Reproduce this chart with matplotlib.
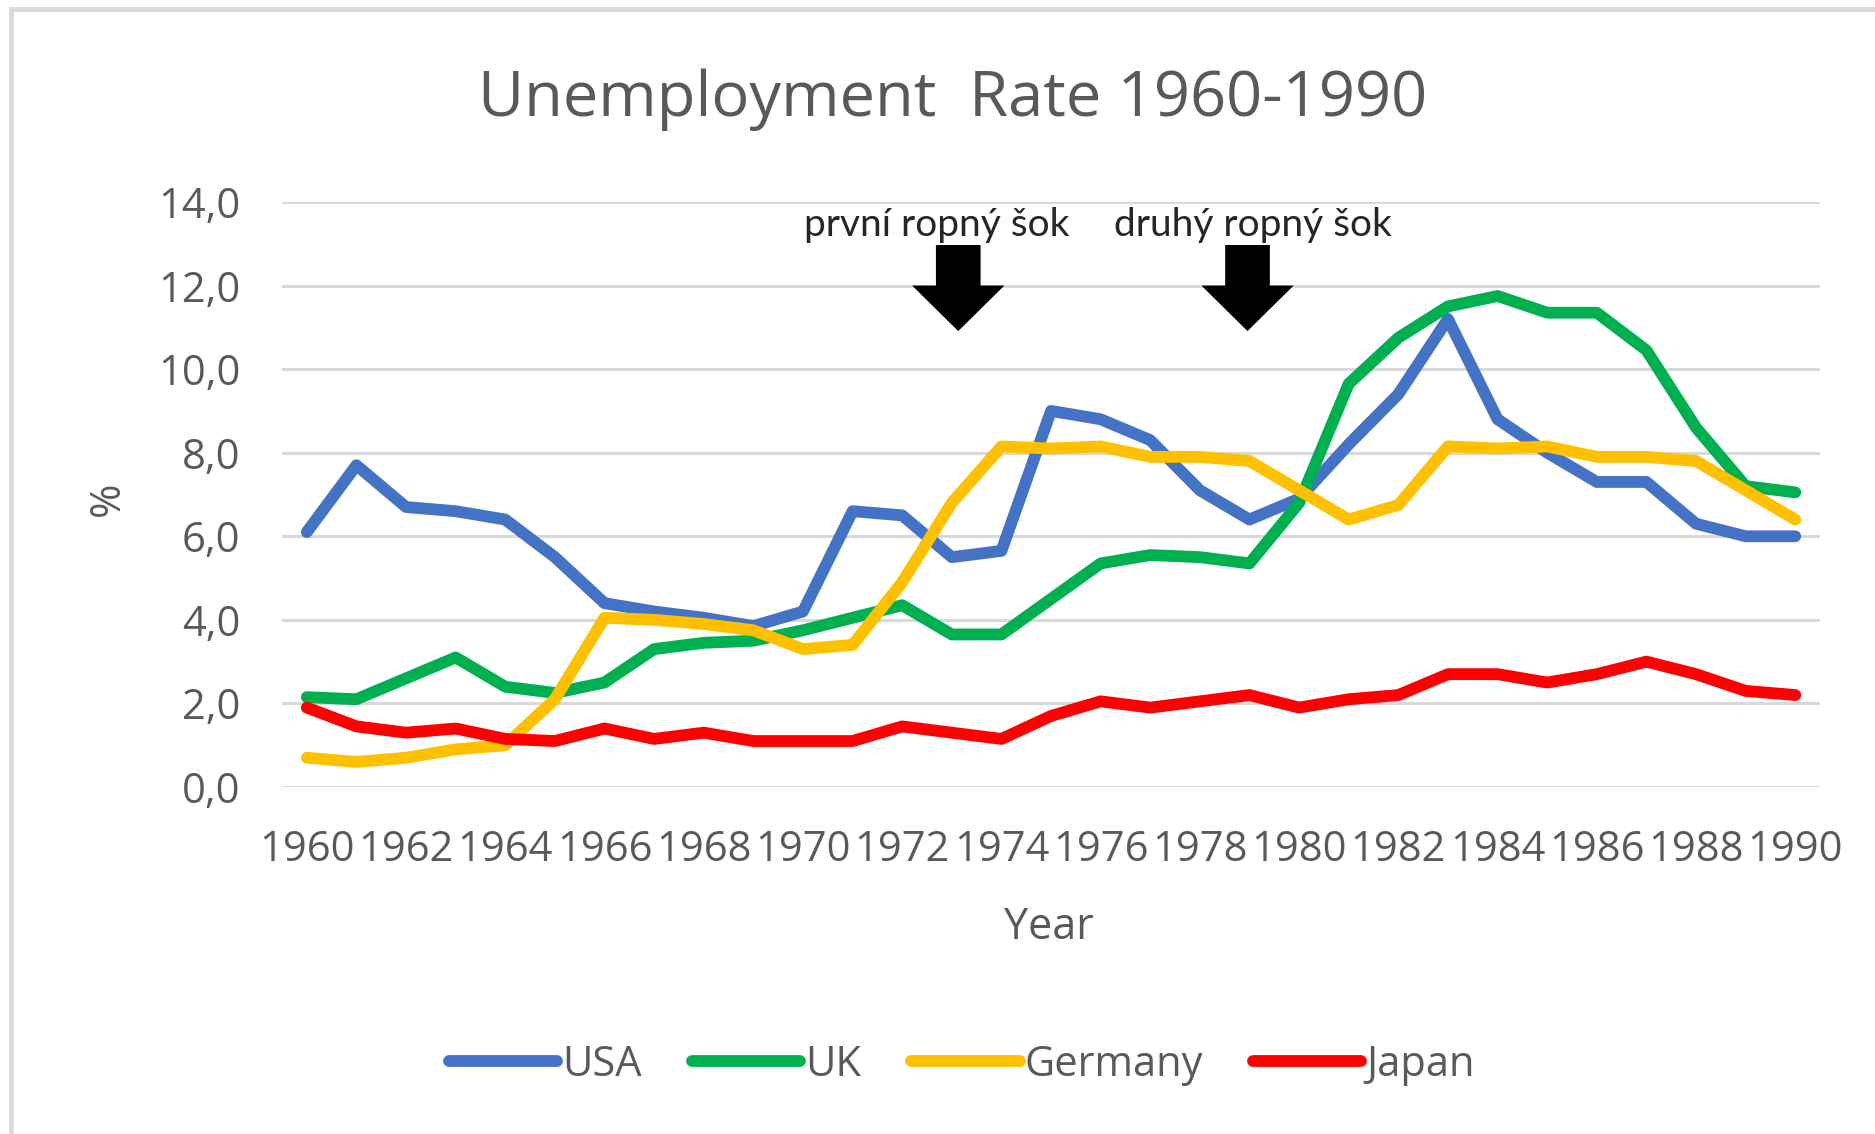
import matplotlib
matplotlib.use("Agg")
import matplotlib.pyplot as plt
from matplotlib.patches import Polygon
from matplotlib.lines import Line2D

years = list(range(1960, 1991))
usa = [6.1, 7.7, 6.7, 6.6, 6.4, 5.5, 4.4, 4.2, 4.05, 3.85, 4.2, 6.6, 6.5, 5.5, 5.65,
       9.0, 8.8, 8.3, 7.1, 6.4, 6.9, 8.2, 9.4, 11.2, 8.8, 8.0, 7.3, 7.3, 6.3, 6.0, 6.0]
uk = [2.15, 2.1, 2.6, 3.1, 2.4, 2.25, 2.5, 3.3, 3.45, 3.5, 3.75, 4.05, 4.35, 3.65, 3.65,
      4.5, 5.35, 5.55, 5.5, 5.35, 6.8, 9.65, 10.75, 11.5, 11.75, 11.35, 11.35, 10.45, 8.6, 7.2, 7.05]
germany = [0.7, 0.6, 0.7, 0.9, 1.0, 2.1, 4.05, 4.0, 3.9, 3.75, 3.3, 3.4, 4.9, 6.8, 8.15,
           8.1, 8.15, 7.9, 7.9, 7.8, 7.1, 6.4, 6.75, 8.15, 8.1, 8.15, 7.9, 7.9, 7.8, 7.1, 6.4]
japan = [1.9, 1.45, 1.3, 1.4, 1.15, 1.1, 1.4, 1.15, 1.3, 1.1, 1.1, 1.1, 1.45, 1.3, 1.15,
         1.7, 2.05, 1.9, 2.05, 2.2, 1.9, 2.1, 2.2, 2.7, 2.7, 2.5, 2.7, 3.0, 2.7, 2.3, 2.2]

series_names = ["USA", "UK", "Germany", "Japan"]
series_values = [usa, uk, germany, japan]
series_colors = ["#4472C4", "#00B050", "#FFC000", "#FF0000"]

xtick_years = list(range(1960, 1991, 2))
yticks = [0, 2, 4, 6, 8, 10, 12, 14]

shock_labels = ["první ropný šok", "druhý ropný šok"]
shock_text_x = [1972.69, 1979.06]
shock_arrow_x = [1973.13, 1978.96]

TXT = "#595959"
FONT = ["Open Sans", "DejaVu Sans"]
plt.rcParams["font.family"] = FONT

fig = plt.figure(figsize=(18.75, 11.34), dpi=100)
ax = fig.add_axes([0.1504, 0.306, 0.8203, 0.5159])

for name, vals, col in zip(series_names, series_values, series_colors):
    ax.plot(years, vals, color=col, lw=8.5, label=name, solid_capstyle="round",
            solid_joinstyle="round", clip_on=False, zorder=3)

ax.set_xlim(1959.5, 1990.5)
ax.set_ylim(0, 14)
ax.set_xticks(xtick_years)
ax.set_xticklabels([str(y) for y in xtick_years])
ax.set_yticks(yticks)
ax.set_yticklabels([f"{v:.1f}".replace(".", ",") for v in yticks])
ax.tick_params(axis="both", length=0, labelsize=30, labelcolor=TXT)
ax.tick_params(axis="x", pad=30)
ax.tick_params(axis="y", pad=30)
ax.grid(axis="y", color="#D9D9D9", lw=2.2)
ax.set_axisbelow(True)
for s in ax.spines.values():
    s.set_visible(False)

fig.text(0.508, 0.912, "Unemployment  Rate 1960-1990", ha="center", va="center",
         fontsize=45.5, color=TXT)
fig.text(0.0576, 0.56, "%", rotation=90, ha="center", va="center", fontsize=30, color=TXT)
fig.text(0.5595, 0.182, "Year", ha="center", va="center", fontsize=31, color=TXT)

# annotations
for lab, tx, axx in zip(shock_labels, shock_text_x, shock_arrow_x):
    ax.text(tx, 13.45, lab, ha="center", va="center", fontsize=28, color="#262626",
            family=["Lato", "DejaVu Sans"], zorder=4, clip_on=False)
    sw, hw = 0.45, 0.93
    verts = [(axx - sw, 12.97), (axx + sw, 12.97), (axx + sw, 12.0), (axx + hw, 12.0),
             (axx, 10.91), (axx - hw, 12.0), (axx - sw, 12.0)]
    ax.add_patch(Polygon(verts, closed=True, facecolor="black", edgecolor="none",
                         zorder=5, clip_on=False))

leg = fig.legend(loc="center", bbox_to_anchor=(0.513, 0.061), ncol=4, frameon=False,
                 fontsize=30, handlelength=2.6, handletextpad=0.12, columnspacing=1.2)
for t in leg.get_texts():
    t.set_color(TXT)
for h in leg.get_lines():
    h.set_linewidth(8.5)
    h.set_solid_capstyle("round")

# chart-area border (top and left edges visible)
fig.add_artist(Line2D([0.0056, 0.0056], [0, 0.9925], transform=fig.transFigure,
                      color="#D9D9D9", lw=3.5))
fig.add_artist(Line2D([0.0056, 1.0], [0.9925, 0.9925], transform=fig.transFigure,
                      color="#D9D9D9", lw=3.5))

fig.savefig("out.png", dpi=100, facecolor="white")
